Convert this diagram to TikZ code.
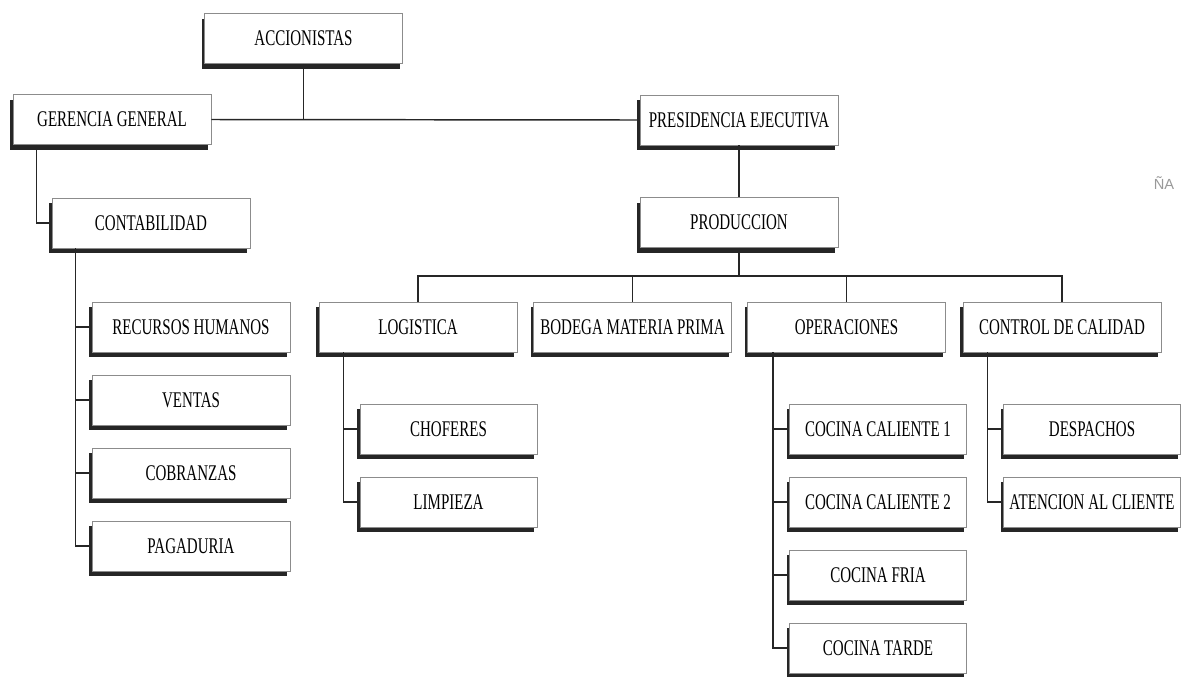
\documentclass[tikz,border=0pt]{standalone}
\usepackage{fontspec}
\setmainfont{Liberation Serif}[FakeStretch=0.67]
\newfontfamily\scanfont{Liberation Sans}
\usetikzlibrary{shadows,calc}
\begin{document}
\begin{tikzpicture}[x=0.75pt,y=-0.75pt,
  unit/.style={draw=black!45, line width=0.5pt, fill=white,
    minimum height=37.5pt, minimum width=148.5pt, inner sep=0pt,
    font=\fontsize{16.8}{18}\selectfont,
    drop shadow={shadow xshift=-2.25pt, shadow yshift=-4pt, opacity=1, fill=black!85}},
  subunit/.style={unit, minimum width=132.75pt},
  link/.style={line width=1.1pt, draw=black!85}]
\useasboundingbox (0,0) rectangle (1182,676);

% top levels
\node[unit] (acc)  at (303.5,38.5) {ACCIONISTAS};
\node[unit] (ger)  at (112,119.5)  {GERENCIA GENERAL};
\node[unit] (pres) at (739,120)    {PRESIDENCIA EJECUTIVA};
\node[unit] (cont) at (151,223)    {CONTABILIDAD};
\node[unit] (prod) at (739,222.5)  {PRODUCCION};

% departments under production
\node[unit] (log)  at (418,327)    {LOGISTICA};
\node[unit] (bod)  at (632.5,327)  {BODEGA MATERIA PRIMA};
\node[unit] (ops)  at (846.5,327)  {OPERACIONES};
\node[unit] (ctl)  at (1062,327)   {CONTROL DE CALIDAD};

% accounting sections
\node[unit] (rrhh) at (191,327) {RECURSOS HUMANOS};
\node[unit] (ven)  at (191,400) {VENTAS};
\node[unit] (cob)  at (191,473) {COBRANZAS};
\node[unit] (pag)  at (191,546) {PAGADURIA};

% logistics sections
\node[subunit] (cho) at (448.5,429) {CHOFERES};
\node[subunit] (lim) at (448.5,502) {LIMPIEZA};

% operations sections
\node[subunit] (cc1) at (878,429) {COCINA CALIENTE 1};
\node[subunit] (cc2) at (878,502) {COCINA CALIENTE 2};
\node[subunit] (cfr) at (878,575) {COCINA FRIA};
\node[subunit] (cta) at (878,648) {COCINA TARDE};

% quality control sections
\node[subunit] (des) at (1092,429) {DESPACHOS};
\node[subunit] (ate) at (1092,502) {ATENCION AL CLIENTE};

% connectors
\draw[link] (ger.east) -- (pres.west);
\draw[link] (acc.south) -- (acc.south |- ger.east);
\draw[link] ($(ger.south west)+(24,0)$) |- (cont.west);
\draw[link] (pres.south) -- (prod.north);

\coordinate (bus) at (0,276);
\draw[link] (prod.south) -- (prod.south |- bus);
\draw[link] (log.north) -- (log.north |- bus) -- (ctl.north |- bus) -- (ctl.north);
\draw[link] (bod.north) -- (bod.north |- bus);
\draw[link] (ops.north) -- (ops.north |- bus);

% accounting spine
\coordinate (cs) at ($(cont.south west)+(24,0)$);
\draw[link] (cs) |- (pag.west);
\foreach \n in {rrhh,ven,cob} \draw[link] (\n.west) -- (cs |- \n.west);

% logistics spine
\coordinate (ls) at ($(log.south west)+(25,0)$);
\draw[link] (ls) |- (lim.west);
\draw[link] (cho.west) -- (ls |- cho.west);

% operations spine
\coordinate (os) at ($(ops.south west)+(26,0)$);
\draw[link] (os) |- (cta.west);
\foreach \n in {cc1,cc2,cfr} \draw[link] (\n.west) -- (os |- \n.west);

% quality control spine
\coordinate (qs) at ($(ctl.south west)+(25,0)$);
\draw[link] (qs) |- (ate.west);
\draw[link] (des.west) -- (qs |- des.west);

% faint mark in the upper right corner
\node[text=black!40, font=\scanfont\fontsize{11}{12}\selectfont] (mark) at (1164,183) {ÑA};
\end{tikzpicture}
\end{document}
